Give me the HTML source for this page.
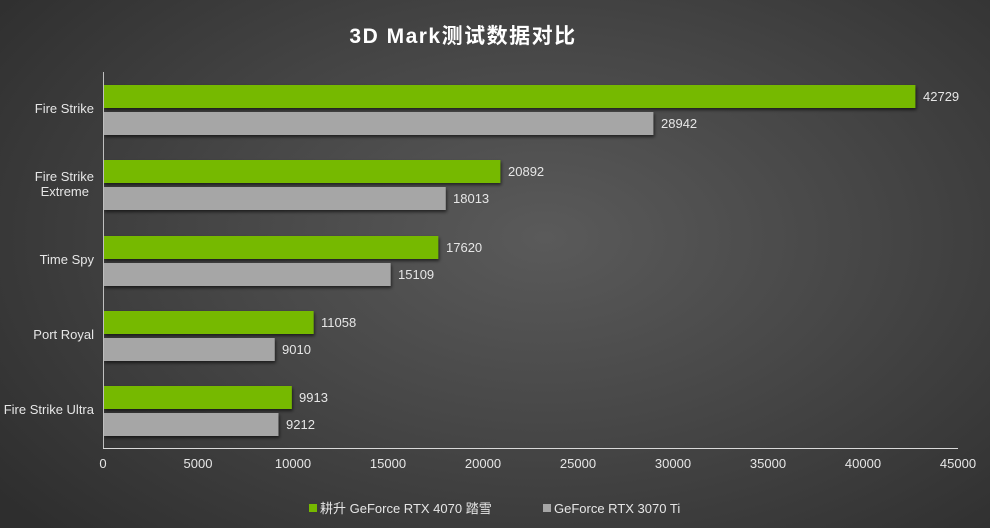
<!DOCTYPE html>
<html><head><meta charset="utf-8"><style>
html,body{margin:0;padding:0;}
body{width:990px;height:528px;overflow:hidden;background:radial-gradient(ellipse 70% 80% at 55% 45%,#5a5a5a 0%,#474747 45%,#2e2e2e 100%);}
svg{display:block;font-family:"Liberation Sans","Noto Sans CJK SC",sans-serif;}
</style></head><body>
<svg width="990" height="528" viewBox="0 0 990 528">
<defs><filter id="sh" x="-5%" y="-20%" width="110%" height="160%"><feDropShadow dx="1" dy="2" stdDeviation="1.5" flood-color="#000" flood-opacity="0.6"/></filter></defs>
<text x="463" y="43" text-anchor="middle" font-size="21" font-weight="bold" letter-spacing="1.5" fill="#ffffff">3D Mark测试数据对比</text>
<g filter="url(#sh)">
<rect x="103.5" y="85" width="811.9" height="23" fill="#76b900"/>
<rect x="103.5" y="112" width="549.9" height="23" fill="#a6a6a6"/>
<rect x="103.5" y="160" width="396.9" height="23" fill="#76b900"/>
<rect x="103.5" y="187" width="342.2" height="23" fill="#a6a6a6"/>
<rect x="103.5" y="236" width="334.8" height="23" fill="#76b900"/>
<rect x="103.5" y="263" width="287.1" height="23" fill="#a6a6a6"/>
<rect x="103.5" y="311" width="210.1" height="23" fill="#76b900"/>
<rect x="103.5" y="338" width="171.2" height="23" fill="#a6a6a6"/>
<rect x="103.5" y="386" width="188.3" height="23" fill="#76b900"/>
<rect x="103.5" y="413" width="175.0" height="23" fill="#a6a6a6"/>
</g>
<line x1="103.5" y1="72" x2="103.5" y2="448" stroke="#bfbfbf" stroke-width="1"/>
<line x1="103" y1="448.5" x2="958" y2="448.5" stroke="#d9d9d9" stroke-width="1"/>
<g font-size="13" fill="#e6e6e6">
<text x="923" y="101">42729</text>
<text x="661" y="128">28942</text>
<text x="508" y="176">20892</text>
<text x="453" y="203">18013</text>
<text x="446" y="252">17620</text>
<text x="398" y="279">15109</text>
<text x="321" y="327">11058</text>
<text x="282" y="354">9010</text>
<text x="299" y="402">9913</text>
<text x="286" y="429">9212</text>
</g>
<g font-size="13" fill="#e6e6e6" text-anchor="end">
<text x="94" y="113">Fire Strike</text>
<text x="94" y="181">Fire Strike</text>
<text x="89" y="196">Extreme</text>
<text x="94" y="264">Time Spy</text>
<text x="94" y="339">Port Royal</text>
<text x="94" y="414">Fire Strike Ultra</text>
</g>
<g font-size="13" fill="#e6e6e6" text-anchor="middle">
<text x="103" y="468">0</text>
<text x="198" y="468">5000</text>
<text x="293" y="468">10000</text>
<text x="388" y="468">15000</text>
<text x="483" y="468">20000</text>
<text x="578" y="468">25000</text>
<text x="673" y="468">30000</text>
<text x="768" y="468">35000</text>
<text x="863" y="468">40000</text>
<text x="958" y="468">45000</text>
</g>
<rect x="309" y="504" width="8" height="8" fill="#76b900"/>
<text x="320" y="513" font-size="13" fill="#e6e6e6">耕升 GeForce RTX 4070 踏雪</text>
<rect x="543" y="504" width="8" height="8" fill="#a6a6a6"/>
<text x="554" y="513" font-size="13" fill="#e6e6e6">GeForce RTX 3070 Ti</text>
</svg>
</body></html>
